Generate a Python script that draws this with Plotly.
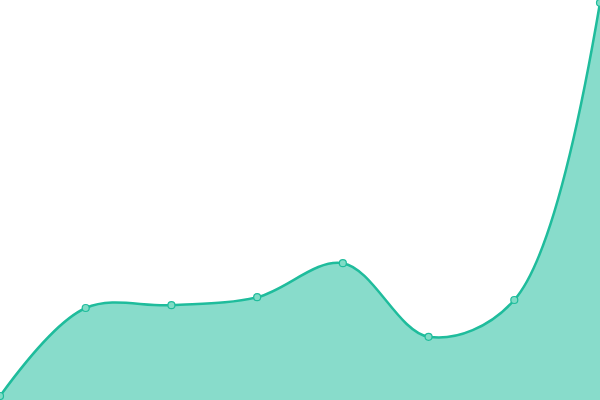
import plotly.graph_objects as go

# chart values
labels = ["1", "2", "3", "4", "5", "6", "7", "8"]
values = [1, 23, 23.7, 25.7, 34.2, 15.8, 25, 99.3]

line_color = "#1fbc9c"
fill_color = "rgba(26,188,156,0.52)"

fig = go.Figure(go.Scatter(
    x=labels,
    y=values,
    mode="lines+markers",
    line=dict(color=line_color, width=2.5, shape="spline", smoothing=1),
    marker=dict(size=7, color="#80dcc6", line=dict(color=line_color, width=1.2)),
    fill="tozeroy",
    fillcolor=fill_color,
    cliponaxis=False,
))

fig.update_layout(
    width=600, height=400,
    margin=dict(l=0, r=0, t=0, b=0),
    paper_bgcolor="white", plot_bgcolor="white",
    showlegend=False,
    xaxis=dict(visible=False, range=[0, 7]),
    yaxis=dict(visible=False, range=[0, 100]),
)

# page has a default 8px body margin, drop it so the chart sits at 0,0
fig.write_html(
    "out.html",
    config={"displayModeBar": False},
    post_script="document.body.style.margin='0';document.body.style.overflow='hidden';",
)
